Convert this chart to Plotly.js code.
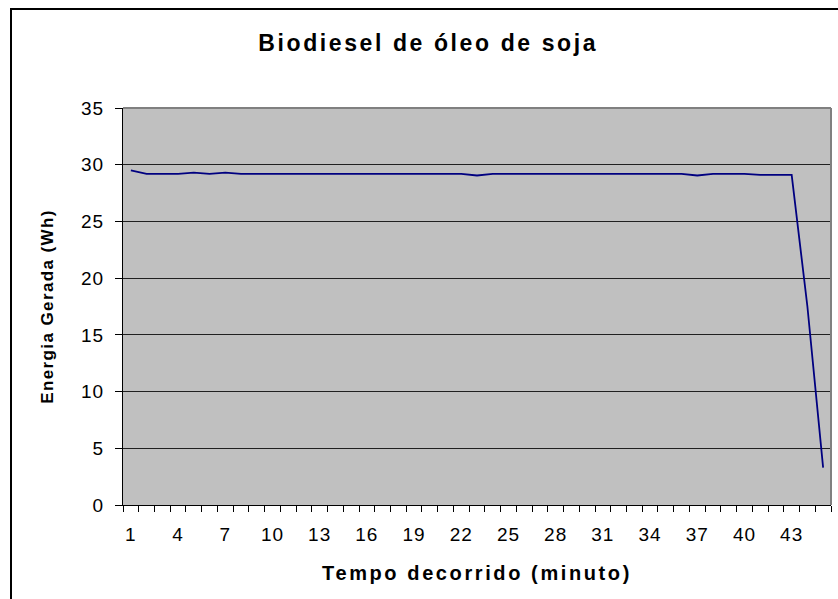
<!DOCTYPE html>
<html>
<head>
<meta charset="utf-8">
<script src="https://cdn.plot.ly/plotly-3.0.1.min.js"></script>
<style>
  html, body { margin: 0; padding: 0; background: #fff; }
  #chart { width: 838px; height: 599px; }
  .gtitle { letter-spacing: 2.6px; }
  .xtitle { letter-spacing: 2.6px; }
  .ytitle { letter-spacing: 1.4px; }
  .xtick text, .ytick text { letter-spacing: 1px; }
</style>
</head>
<body>
<div id="chart"></div>
<script>
// Data
const minutes = [1,2,3,4,5,6,7,8,9,10,11,12,13,14,15,16,17,18,19,20,21,22,23,24,25,26,27,28,29,30,31,32,33,34,35,36,37,38,39,40,41,42,43,44,45];
const energy = [29.5,29.2,29.2,29.2,29.3,29.2,29.3,29.2,29.2,29.2,29.2,29.2,29.2,29.2,29.2,29.2,29.2,29.2,29.2,29.2,29.2,29.2,29.05,29.2,29.2,29.2,29.2,29.2,29.2,29.2,29.2,29.2,29.2,29.2,29.2,29.2,29.05,29.2,29.2,29.2,29.1,29.1,29.1,17.5,3.3];
const xTickVals = [1,4,7,10,13,16,19,22,25,28,31,34,37,40,43];
const xTickText = ["1","4","7","10","13","16","19","22","25","28","31","34","37","40","43"];
const yTickVals = [0,5,10,15,20,25,30,35];
const chartTitle = "Biodiesel de óleo de soja";
const xTitle = "Tempo decorrido (minuto)";
const yTitle = "Energia Gerada (Wh)";

const FONT = "Liberation Sans, Arial, sans-serif";

// plot area in pixels: x 123..831, y 108..505
const L = 123, R = 831, T = 108, B = 505;
const px = X => (X - L) / (R - L);
const py = Y => (B - Y) / (B - T);

const trace = {
  x: minutes,
  y: energy,
  type: 'scatter',
  mode: 'lines',
  line: { color: '#000080', width: 1.8 },
  hoverinfo: 'x+y'
};

const layout = {
  width: 838,
  height: 599,
  margin: { l: L, r: 838 - R, t: T, b: 599 - B, pad: 0 },
  paper_bgcolor: '#ffffff',
  plot_bgcolor: '#c0c0c0',
  showlegend: false,
  title: {
    text: '<b>' + chartTitle + '</b>',
    font: { family: FONT, size: 23, color: '#000' },
    x: 0.511, xanchor: 'center',
    y: 1 - 43 / 599, yanchor: 'middle'
  },
  xaxis: {
    range: [0.5, 45.5],
    tickmode: 'array',
    tickvals: xTickVals,
    ticktext: xTickText,
    ticks: '',
    showgrid: false,
    zeroline: false,
    showline: true,
    linecolor: '#000',
    linewidth: 1,
    mirror: false,
    ticklabelstandoff: 12,
    tickfont: { family: FONT, size: 19, color: '#000' },
    minor: { tickmode: 'linear', tick0: 0.5, dtick: 1, ticks: 'outside', ticklen: 6, tickwidth: 1, tickcolor: '#000', showgrid: false },
    title: { text: '<b>' + xTitle + '</b>', font: { family: FONT, size: 20, color: '#000' }, standoff: 22 }
  },
  yaxis: {
    range: [0, 35],
    tickmode: 'array',
    tickvals: yTickVals,
    ticks: 'outside',
    ticklen: 7,
    tickwidth: 1,
    tickcolor: '#000',
    showgrid: true,
    gridcolor: '#202020',
    gridwidth: 1,
    zeroline: false,
    showline: true,
    linecolor: '#000',
    linewidth: 1,
    ticklabelstandoff: 7,
    tickfont: { family: FONT, size: 19, color: '#000' },
    title: { text: '<b>' + yTitle + '</b>', font: { family: FONT, size: 17, color: '#000' }, standoff: 23 }
  },
  shapes: [
    // gray plot-area frame (top and right)
    { type: 'line', xref: 'paper', yref: 'paper', x0: 0, x1: 1, y0: 1, y1: 1, line: { color: '#808080', width: 2 } },
    { type: 'line', xref: 'paper', yref: 'paper', x0: 1, x1: 1, y0: 0, y1: 1, line: { color: '#808080', width: 2 } },
    // outer chart border (left and top, black)
    { type: 'line', xref: 'paper', yref: 'paper', x0: px(11), x1: px(11), y0: py(9), y1: py(610), line: { color: '#000', width: 2 } },
    { type: 'line', xref: 'paper', yref: 'paper', x0: px(10), x1: px(850), y0: py(9), y1: py(9), line: { color: '#000', width: 2 } }
  ]
};

Plotly.newPlot('chart', [trace], layout, { displayModeBar: false, staticPlot: true });
</script>
</body>
</html>
